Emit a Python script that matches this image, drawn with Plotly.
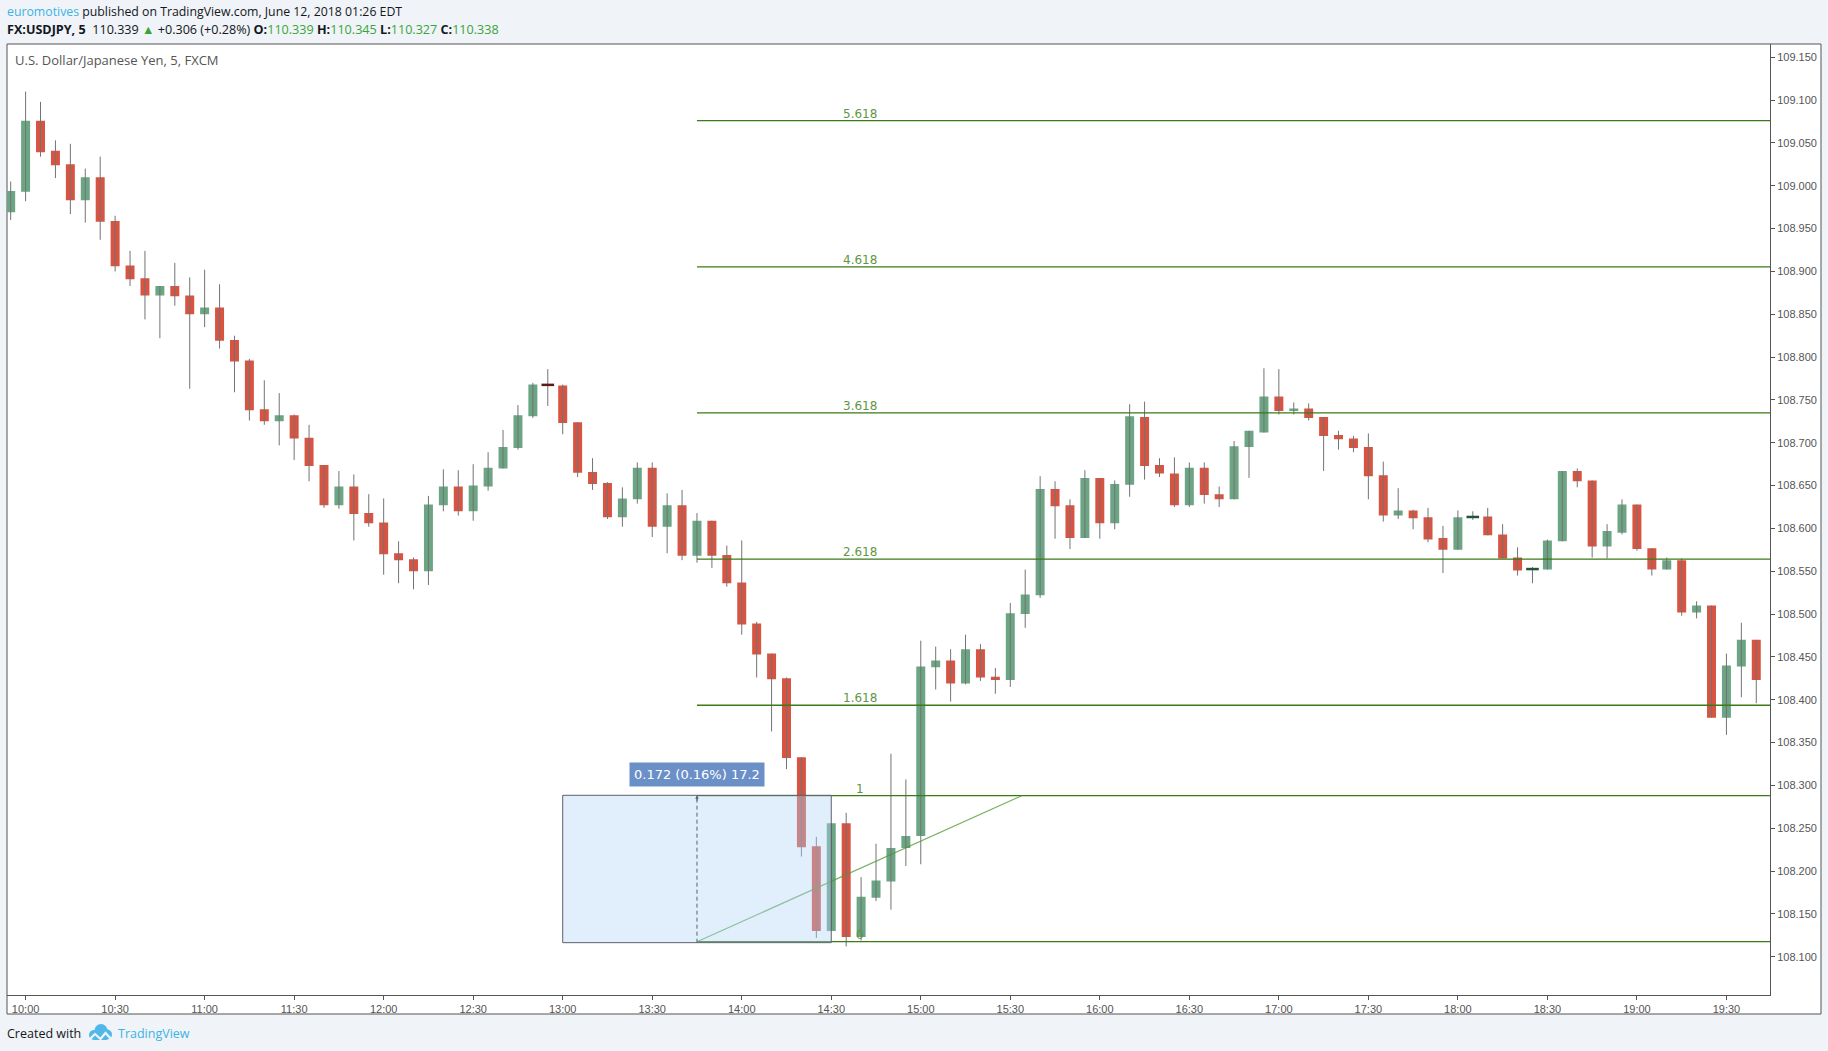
import pandas as pd
import plotly.graph_objects as go

# 5-minute bars, FX:USDJPY
times = pd.date_range("2018-06-11 09:55", periods=118, freq="5min")

opens = [108.969, 108.993, 109.076, 109.041, 109.025, 108.983, 109.010, 108.959, 108.907, 108.892,
         108.872, 108.883, 108.872, 108.850, 108.858, 108.820, 108.796, 108.739, 108.725, 108.732,
         108.706, 108.674, 108.627, 108.649, 108.618, 108.607, 108.571, 108.564, 108.550, 108.627,
         108.649, 108.620, 108.649, 108.670, 108.694, 108.731, 108.7676, 108.767, 108.724, 108.666,
         108.653, 108.613, 108.634, 108.671, 108.602, 108.627, 108.568, 108.609, 108.569, 108.537,
         108.489, 108.454, 108.425, 108.333, 108.229, 108.130, 108.256, 108.123, 108.169, 108.188,
         108.227, 108.241, 108.438, 108.446, 108.419, 108.459, 108.427, 108.423, 108.500, 108.522,
         108.646, 108.627, 108.589, 108.659, 108.606, 108.651, 108.730, 108.674, 108.664, 108.627,
         108.671, 108.640, 108.634, 108.695, 108.712, 108.754, 108.737, 108.740, 108.730, 108.709,
         108.705, 108.695, 108.662, 108.615, 108.621, 108.613, 108.589, 108.575, 108.6134, 108.614,
         108.593, 108.566, 108.5526, 108.552, 108.585, 108.667, 108.656, 108.579, 108.595, 108.628,
         108.577, 108.552, 108.563, 108.502, 108.510, 108.379, 108.439, 108.470]
highs = [109.005, 109.110, 109.098, 109.053, 109.049, 109.020, 109.034, 108.965, 108.924, 108.924,
         108.883, 108.910, 108.893, 108.902, 108.885, 108.825, 108.798, 108.773, 108.758, 108.733,
         108.721, 108.674, 108.667, 108.663, 108.640, 108.635, 108.585, 108.566, 108.638, 108.669,
         108.668, 108.675, 108.689, 108.715, 108.744, 108.770, 108.786, 108.768, 108.724, 108.682,
         108.654, 108.648, 108.677, 108.677, 108.641, 108.645, 108.618, 108.609, 108.580, 108.586,
         108.491, 108.454, 108.426, 108.333, 108.240, 108.256, 108.268, 108.193, 108.232, 108.337,
         108.307, 108.469, 108.462, 108.459, 108.476, 108.465, 108.437, 108.513, 108.552, 108.661,
         108.655, 108.634, 108.668, 108.659, 108.656, 108.745, 108.748, 108.682, 108.683, 108.677,
         108.677, 108.649, 108.702, 108.714, 108.787, 108.786, 108.747, 108.746, 108.730, 108.714,
         108.708, 108.711, 108.678, 108.647, 108.622, 108.624, 108.603, 108.621, 108.620, 108.624,
         108.605, 108.578, 108.555, 108.587, 108.667, 108.670, 108.656, 108.605, 108.634, 108.628,
         108.577, 108.566, 108.565, 108.515, 108.510, 108.454, 108.490, 108.470]
lows = [108.960, 108.982, 109.034, 109.009, 108.967, 108.957, 108.937, 108.900, 108.883, 108.844,
        108.822, 108.860, 108.763, 108.835, 108.810, 108.759, 108.726, 108.721, 108.697, 108.680,
        108.655, 108.624, 108.623, 108.586, 108.602, 108.546, 108.536, 108.529, 108.534, 108.620,
        108.615, 108.609, 108.644, 108.670, 108.692, 108.729, 108.743, 108.710, 108.660, 108.645,
        108.611, 108.602, 108.629, 108.590, 108.571, 108.563, 108.560, 108.554, 108.532, 108.476,
        108.426, 108.363, 108.319, 108.217, 108.122, 108.130, 108.112, 108.119, 108.165, 108.155,
        108.206, 108.208, 108.412, 108.398, 108.418, 108.422, 108.407, 108.415, 108.484, 108.519,
        108.588, 108.576, 108.589, 108.588, 108.599, 108.637, 108.657, 108.660, 108.625, 108.625,
        108.629, 108.625, 108.634, 108.659, 108.712, 108.733, 108.733, 108.726, 108.667, 108.692,
        108.689, 108.634, 108.608, 108.611, 108.599, 108.584, 108.548, 108.575, 108.610, 108.592,
        108.565, 108.545, 108.536, 108.552, 108.585, 108.648, 108.566, 108.565, 108.593, 108.574,
        108.545, 108.552, 108.498, 108.495, 108.379, 108.359, 108.403, 108.396]
closes = [108.994, 109.076, 109.039, 109.024, 108.983, 109.010, 108.958, 108.906, 108.891, 108.872,
          108.883, 108.871, 108.850, 108.858, 108.819, 108.795, 108.738, 108.725, 108.732, 108.705,
          108.673, 108.627, 108.649, 108.617, 108.606, 108.570, 108.563, 108.550, 108.628, 108.649,
          108.620, 108.650, 108.671, 108.695, 108.732, 108.768, 108.7676, 108.723, 108.665, 108.652,
          108.613, 108.635, 108.671, 108.602, 108.627, 108.568, 108.609, 108.568, 108.536, 108.488,
          108.453, 108.424, 108.332, 108.228, 108.130, 108.256, 108.123, 108.170, 108.189, 108.227,
          108.241, 108.439, 108.446, 108.419, 108.459, 108.426, 108.423, 108.501, 108.523, 108.646,
          108.626, 108.589, 108.659, 108.606, 108.652, 108.731, 108.673, 108.664, 108.627, 108.671,
          108.639, 108.634, 108.696, 108.714, 108.754, 108.737, 108.740, 108.729, 108.708, 108.704,
          108.694, 108.661, 108.615, 108.621, 108.612, 108.587, 108.575, 108.613, 108.6134, 108.592,
          108.565, 108.551, 108.5526, 108.586, 108.667, 108.655, 108.579, 108.597, 108.628, 108.576,
          108.552, 108.563, 108.502, 108.510, 108.379, 108.440, 108.470, 108.423]

# trend-based fib extension
fib_start = pd.Timestamp("2018-06-11 13:45")
fib_end = pd.Timestamp("2018-06-11 15:34")
fib_zero, fib_one = 108.1176, 108.2882
fib_ratios = [0, 1, 1.618, 2.618, 3.618, 4.618, 5.618]
fib_labels = ["0", "1", "1.618", "2.618", "3.618", "4.618", "5.618"]

# price range measure
range_left = pd.Timestamp("2018-06-11 13:00")
range_right = pd.Timestamp("2018-06-11 14:30")
range_mid = pd.Timestamp("2018-06-11 13:45")
range_low, range_high = 108.1165, 108.2885
range_text = "0.172 (0.16%) 17.2"

y_ticks = [108.10, 108.15, 108.20, 108.25, 108.30, 108.35, 108.40, 108.45, 108.50, 108.55,
           108.60, 108.65, 108.70, 108.75, 108.80, 108.85, 108.90, 108.95, 109.00, 109.05,
           109.10, 109.15]
x_ticks = pd.date_range("2018-06-11 10:00", "2018-06-11 19:30", freq="30min")
x_range = ["2018-06-11 09:53:46", "2018-06-11 19:44:36"]
y_range = [108.0554, 109.1655]

UP, DOWN, WICK = "#6ba583", "#d75442", "#737375"
FIB_LINE, FIB_TEXT = "#3a7a17", "#5f9645"
AXIS = "#555555"

# pixel -> paper helpers (plot area 7..1770 x 44..995)
L, R, T, B = 7, 1770, 44, 995
def px(x):
    return (x - L) / (R - L)
def py(y):
    return (B - y) / (B - T)

fig = go.Figure()

# wicks
wx, wy = [], []
for t, h, l in zip(times, highs, lows):
    wx += [t, t, None]
    wy += [l, h, None]
fig.add_trace(go.Scatter(x=wx, y=wy, mode="lines", line=dict(color=WICK, width=1),
                         hoverinfo="skip"))

# bodies
fig.add_trace(go.Candlestick(
    x=times, open=opens, high=highs, low=lows, close=closes,
    increasing=dict(fillcolor=UP, line=dict(color=UP, width=0)),
    decreasing=dict(fillcolor=DOWN, line=dict(color=DOWN, width=0)),
    whiskerwidth=0,
))

# doji bars (open == close), coloured against previous close
dx, dy, dc = [], [], []
for i in range(len(times)):
    if opens[i] == closes[i]:
        dx.append(times[i])
        dy.append(closes[i])
        dc.append("#225437" if closes[i] >= closes[i - 1] else "#5b1a13")
fig.add_trace(go.Scatter(x=dx, y=dy, mode="markers",
                         marker=dict(symbol="line-ew", size=9, line=dict(color=dc, width=2.5))))

shapes = []
annotations = []

# panel frame
shapes.append(dict(type="rect", xref="paper", yref="paper", x0=px(7), x1=px(1821),
                   y0=py(1014), y1=py(44), fillcolor="white",
                   line=dict(color=AXIS, width=1), layer="below"))

# fib lines + labels
fib_mid = fib_start + (fib_end - fib_start) / 2
for r, lab in zip(fib_ratios, fib_labels):
    lvl = fib_zero + r * (fib_one - fib_zero)
    shapes.append(dict(type="line", xref="x", yref="y", x0=fib_start, x1=x_range[1],
                       y0=lvl, y1=lvl, line=dict(color=FIB_LINE, width=1.3), layer="above"))
    annotations.append(dict(x=fib_mid, y=lvl, xref="x", yref="y", text=lab, showarrow=False,
                            yanchor="middle", yshift=7,
                            font=dict(family="DejaVu Sans", size=12, color=FIB_TEXT)))
shapes.append(dict(type="line", xref="x", yref="y", x0=fib_start, x1=fib_end,
                   y0=fib_zero, y1=fib_one, line=dict(color="rgba(80,150,50,0.75)", width=1.2),
                   layer="above"))

# price range box
shapes.append(dict(type="rect", xref="x", yref="y", x0=range_left, x1=range_right,
                   y0=range_low, y1=range_high, fillcolor="rgba(175,212,250,0.38)",
                   line=dict(color="#5d606b", width=1), layer="above"))
shapes.append(dict(type="line", xref="x", yref="y", x0=range_mid, x1=range_mid,
                   y0=range_low, y1=range_high, line=dict(color="#5d606b", width=1, dash="4px,3px"),
                   layer="above"))
annotations.append(dict(x=range_mid, y=range_high, xref="x", yref="y", ax=0, ay=7,
                        showarrow=True, arrowhead=2, arrowsize=0.7, arrowwidth=1,
                        arrowcolor="#5d606b", text=""))
annotations.append(dict(x=range_mid, y=range_high, xref="x", yref="y", text=range_text,
                        showarrow=False, yanchor="bottom", yshift=8,
                        bgcolor="#6b8fc7", borderpad=4,
                        font=dict(family="DejaVu Sans", size=13, color="white")))

# header / footer text
HF = "Open Sans"
annotations.append(dict(x=px(5), y=py(12), xref="paper", yref="paper", xanchor="left",
                        yanchor="middle", showarrow=False,
                        text="<span style='color:#3bb3e4'>euromotives</span> published on "
                             "TradingView.com, June 12, 2018 01:26 EDT",
                        font=dict(family=HF, size=12.3, color="#131722")))
G = "#37a637"
annotations.append(dict(x=px(5), y=py(29), xref="paper", yref="paper", xanchor="left",
                        yanchor="middle", showarrow=False,
                        text=f"<b>FX:USDJPY, 5</b>  110.339 <span style='color:{G}'>▲</span> "
                             f"+0.306 (+0.28%) <b>O:</b><span style='color:{G}'>110.339</span> "
                             f"<b>H:</b><span style='color:{G}'>110.345</span> "
                             f"<b>L:</b><span style='color:{G}'>110.327</span> "
                             f"<b>C:</b><span style='color:{G}'>110.338</span>",
                        font=dict(family=HF, size=12.6, color="#131722")))
annotations.append(dict(x=px(13), y=py(60), xref="paper", yref="paper", xanchor="left",
                        yanchor="middle", showarrow=False,
                        text="U.S. Dollar/Japanese Yen, 5, FXCM",
                        font=dict(family=HF, size=13, color="#555555")))
annotations.append(dict(x=px(5), y=py(1033), xref="paper", yref="paper", xanchor="left",
                        yanchor="middle", showarrow=False, text="Created with",
                        font=dict(family=HF, size=12.5, color="#131722")))
annotations.append(dict(x=px(116), y=py(1033), xref="paper", yref="paper", xanchor="left",
                        yanchor="middle", showarrow=False, text="TradingView",
                        font=dict(family=HF, size=12.5, color="#3bb3e4")))

# tradingview logo (cloud)
LOGO = "#4fb8e8"
for cx, cy, r in [(94, 1035, 5), (101, 1030.5, 6.5), (107, 1034.5, 5)]:
    shapes.append(dict(type="circle", xref="paper", yref="paper", x0=px(cx - r), x1=px(cx + r),
                       y0=py(cy + r), y1=py(cy - r), fillcolor=LOGO, line=dict(width=0)))
shapes.append(dict(type="rect", xref="paper", yref="paper", x0=px(94), x1=px(107),
                   y0=py(1040), y1=py(1033), fillcolor=LOGO, line=dict(width=0)))
zz = [(88, 1041), (95, 1034), (100.5, 1039), (105.5, 1033), (113, 1041)]
path = "M " + " L ".join(f"{px(x)},{py(y)}" for x, y in zz)
shapes.append(dict(type="path", xref="paper", yref="paper", path=path,
                   line=dict(color="#f0f3f7", width=2.2)))

fig.update_layout(
    width=1828, height=1051,
    margin=dict(l=L, r=1828 - R, t=T, b=1051 - B),
    paper_bgcolor="#f0f3f7", plot_bgcolor="white",
    showlegend=False, hovermode=False,
    boxgap=0.14, boxgroupgap=0.3,
    shapes=shapes, annotations=annotations,
)
fig.update_xaxes(type="date", range=x_range, tickvals=x_ticks, tickformat="%H:%M",
                 ticks="outside", ticklen=4, tickcolor=AXIS, showgrid=False, zeroline=False,
                 showline=True, linecolor=AXIS, linewidth=1, rangeslider=dict(visible=False),
                 tickfont=dict(family="Liberation Sans", size=11, color=AXIS))
fig.update_yaxes(side="right", range=y_range, tickvals=y_ticks, tickformat=".3f",
                 ticks="outside", ticklen=4, tickcolor=AXIS, showgrid=False, zeroline=False,
                 showline=True, linecolor=AXIS, linewidth=1,
                 tickfont=dict(family="Liberation Sans", size=11, color=AXIS))

# drop the default page margin so the figure sits at the window origin
fig.write_html("out.html", config={"displayModeBar": False},
               post_script="document.body.style.margin='0';")
